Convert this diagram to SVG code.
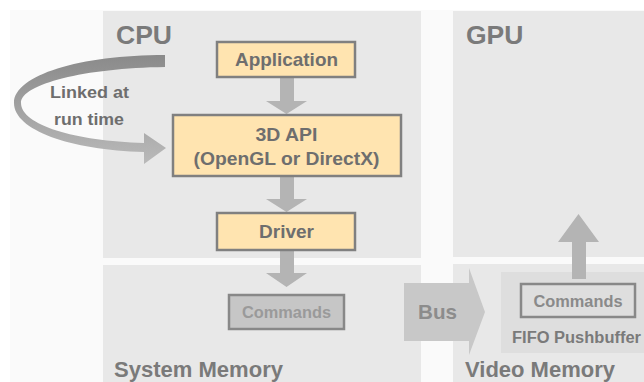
<svg xmlns="http://www.w3.org/2000/svg" width="644" height="382" viewBox="0 0 644 382">
<style>
text{font-family:"Liberation Sans",Arial,sans-serif;font-weight:bold;text-anchor:middle}
.panel{fill:#e8e8e8}
.box{fill:#ffe4b0;stroke:#808080;stroke-width:2.5}
.btxt{font-size:18.5px;fill:#6e6e6e}
.title{font-size:26.5px;fill:#7a7a7a;text-anchor:start}
.mem{font-size:22px;fill:#7a7a7a;text-anchor:start}
.arr{fill:#b4b4b4}
</style>
<defs>
<linearGradient id="curveGrad" gradientUnits="userSpaceOnUse" x1="0" y1="55" x2="0" y2="160">
<stop offset="0" stop-color="#8a8a8a"/>
<stop offset="1" stop-color="#b8b8b8"/>
</linearGradient>
</defs>
<rect width="644" height="382" fill="#ffffff"/>
<rect x="10" y="10" width="634" height="372" fill="#fafafa"/>

<g id="cpu">
<rect class="panel" x="103" y="11" width="318" height="247"/>
<text class="title" x="116" y="44">CPU</text>
</g>
<g id="system-memory">
<rect class="panel" x="103" y="265" width="318" height="117"/>
<text class="mem" x="114" y="377" textLength="169" lengthAdjust="spacingAndGlyphs">System Memory</text>
</g>
<g id="gpu">
<rect class="panel" x="453" y="11" width="191" height="246"/>
<text class="title" x="466" y="44">GPU</text>
</g>
<g id="video-memory">
<rect class="panel" x="453" y="264" width="191" height="118"/>
<text class="mem" x="465" y="377" textLength="150" lengthAdjust="spacingAndGlyphs">Video Memory</text>
</g>
<g id="fifo-pushbuffer">
<rect x="501" y="272" width="143" height="81" fill="#dedede"/>
<text x="512" y="343" style="font-size:16px;fill:#7a7a7a;text-anchor:start" textLength="129" lengthAdjust="spacingAndGlyphs">FIFO Pushbuffer</text>
</g>

<g id="connectors">
<path class="arr" d="M280,77 H294 V101 H307 L286.5,114 L266,101 H280 Z"/>
<path class="arr" d="M280,176 H294 V199 H307 L286.5,212 L266,199 H280 Z"/>
<path class="arr" d="M280,250 H294 V273 H307 L286.5,287 L266,273 H280 Z"/>
<path class="arr" d="M572,279 V242 H558 L578.5,214 L599,242 H586 V279 Z"/>
<path d="M404,283 H469 V268 L485,312 L469,355 V341 H404 Z" fill="#c8c8c8"/>
<text x="437.5" y="319" style="font-size:21px;fill:#8c8c8c" textLength="39" lengthAdjust="spacingAndGlyphs">Bus</text>
<path fill="url(#curveGrad)" d="M165,55 C80,55 14,75 14,103 C14,130 70,150 144,152 L144,164 L166,148 L144,133 L144,143 C75,141 21,125 21,103 C21,84 85,68 165,67 Z"/>
<text x="89.5" y="98" style="font-size:16px;fill:#6e6e6e" textLength="79" lengthAdjust="spacingAndGlyphs">Linked at</text>
<text x="89" y="125" style="font-size:16px;fill:#6e6e6e" textLength="70" lengthAdjust="spacingAndGlyphs">run time</text>
</g>

<g id="application">
<rect class="box" x="217" y="42" width="138" height="35"/>
<text class="btxt" x="286.5" y="66" textLength="103" lengthAdjust="spacingAndGlyphs">Application</text>
</g>
<g id="api">
<rect class="box" x="173" y="115" width="228" height="61"/>
<text class="btxt" x="286.5" y="141" textLength="62" lengthAdjust="spacingAndGlyphs">3D API</text>
<text class="btxt" x="286.5" y="165" textLength="186" lengthAdjust="spacingAndGlyphs">(OpenGL or DirectX)</text>
</g>
<g id="driver">
<rect class="box" x="217" y="213" width="138" height="37"/>
<text class="btxt" x="286.5" y="238" textLength="55" lengthAdjust="spacingAndGlyphs">Driver</text>
</g>
<g id="commands-system">
<rect x="229" y="295" width="115" height="34" fill="#c6c6c6" stroke="#888888" stroke-width="2.5"/>
<text x="286.5" y="318" style="font-size:16px;fill:#9a9a9a" textLength="89" lengthAdjust="spacingAndGlyphs">Commands</text>
</g>
<g id="commands-video">
<rect x="521" y="284" width="114" height="33" fill="#dedede" stroke="#888888" stroke-width="2.5"/>
<text x="578" y="307" style="font-size:16px;fill:#8a8a8a" textLength="89" lengthAdjust="spacingAndGlyphs">Commands</text>
</g>
</svg>
